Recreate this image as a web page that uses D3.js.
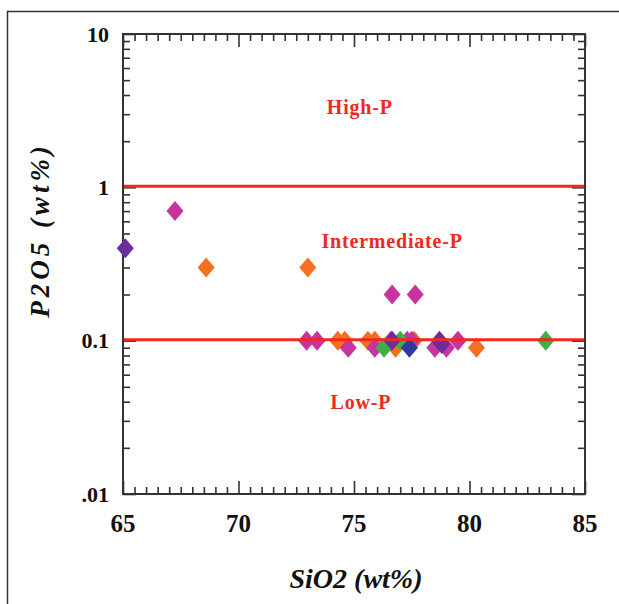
<!DOCTYPE html>
<html><head><meta charset="utf-8">
<script src="https://cdn.jsdelivr.net/npm/d3@7"></script>
<style>body{margin:0;background:#fff}svg{display:block}</style>
</head><body>
<script>
// ---- data ----
const magentaX = [67.25, 76.65, 77.65, 72.95, 73.4, 74.75, 75.9, 76.6, 77.3, 77.5, 78.5, 79.0, 79.5];
const magentaY = [0.7, 0.2, 0.2, 0.1, 0.1, 0.09, 0.09, 0.1, 0.1, 0.1, 0.09, 0.09, 0.1];
const orangeX = [68.6, 73.0, 74.3, 74.6, 75.6, 75.9, 76.8, 77.6, 80.3];
const orangeY = [0.3, 0.3, 0.1, 0.1, 0.1, 0.1, 0.09, 0.1, 0.09];
const greenX = [76.3, 77.0, 83.3];
const greenY = [0.09, 0.1, 0.1];
const purpleX = [65.1, 76.65, 78.7, 78.8];
const purpleY = [0.4, 0.1, 0.1, 0.095];
const blueX = [77.4];
const blueY = [0.09];
const xTicks = [65, 70, 75, 80, 85];
const yTicks = [10, 1, 0.1, 0.01];
const yTickLabels = ["10", "1", "0.1", ".01"];
const boundaries = [1, 0.1];
const fieldLabels = ["High-P", "Intermediate-P", "Low-P"];
const fieldLabelX = [75.25, 76.65, 75.3];
const fieldLabelY = [3.0, 0.4, 0.036];

const W = 619, H = 604;
const L = 123, R = 585, T = 34, B = 494;
const svg = d3.select("body").append("svg").attr("width", W).attr("height", H);

svg.append("rect").attr("x", 7.5).attr("y", 11.5).attr("width", 640).attr("height", 640)
  .attr("fill", "none").attr("stroke", "#333").attr("stroke-width", 1.5);

const x = d3.scaleLinear().domain([65, 85]).range([L, R]);
const y = d3.scaleLog().domain([0.01, 10]).range([B, T]);

const serif = "'Liberation Serif', 'Times New Roman', serif";
const axisCol = "#333";

// minor ticks
const xMinor = d3.range(65, 85.01, 0.5).filter(v => Math.abs(v % 5) > 1e-6);
const yMinor = [];
[0.01, 0.1, 1].forEach(d => { for (let k = 2; k <= 9; k++) yMinor.push(d * k); });

function styleAxis(g) {
  g.selectAll("path").attr("stroke", "none");
  g.selectAll("line").attr("stroke", axisCol).attr("stroke-width", 1.6);
  g.selectAll("text").remove();
}
svg.append("g").attr("transform", `translate(0,${B})`)
  .call(d3.axisBottom(x).tickValues(xMinor).tickSize(-7)).call(styleAxis);
svg.append("g").attr("transform", `translate(0,${T})`)
  .call(d3.axisTop(x).tickValues(xMinor).tickSize(-7)).call(styleAxis);
svg.append("g").attr("transform", `translate(0,${B})`)
  .call(d3.axisBottom(x).tickValues(xTicks).tickSize(-13)).call(styleAxis);
svg.append("g").attr("transform", `translate(0,${T})`)
  .call(d3.axisTop(x).tickValues(xTicks).tickSize(-13)).call(styleAxis);
svg.append("g").attr("transform", `translate(${L},0)`)
  .call(d3.axisLeft(y).tickValues(yMinor).tickSize(-7)).call(styleAxis);
svg.append("g").attr("transform", `translate(${R},0)`)
  .call(d3.axisRight(y).tickValues(yMinor).tickSize(-7)).call(styleAxis);
svg.append("g").attr("transform", `translate(${L},0)`)
  .call(d3.axisLeft(y).tickValues(yTicks).tickSize(-13)).call(styleAxis);
svg.append("g").attr("transform", `translate(${R},0)`)
  .call(d3.axisRight(y).tickValues(yTicks).tickSize(-13)).call(styleAxis);

// frame
svg.append("rect").attr("x", L).attr("y", T).attr("width", R - L).attr("height", B - T)
  .attr("fill", "none").attr("stroke", axisCol).attr("stroke-width", 2);

// tick labels
svg.append("g").selectAll("text").data(xTicks).join("text")
  .attr("x", d => x(d)).attr("y", B + 38).attr("text-anchor", "middle")
  .attr("font-family", serif).attr("font-weight", "bold").attr("font-size", 25)
  .attr("fill", "#111").text(d => d);
svg.append("g").selectAll("text").data(yTicks).join("text")
  .attr("x", L - 14).attr("y", d => y(d)).attr("dy", "0.35em").attr("text-anchor", "end")
  .attr("font-family", serif).attr("font-weight", "bold").attr("font-size", 22)
  .attr("fill", "#111").text((d, i) => yTickLabels[i]);

// axis titles
svg.append("text").attr("x", 356).attr("y", 588).attr("text-anchor", "middle")
  .attr("font-family", serif).attr("font-weight", "bold").attr("font-style", "italic")
  .attr("font-size", 28).attr("fill", "#111").text("SiO2 (wt%)");
svg.append("text").attr("transform", "translate(49,230) rotate(-90)").attr("text-anchor", "middle")
  .attr("font-family", serif).attr("font-weight", "bold").attr("font-style", "italic")
  .attr("font-size", 27).attr("letter-spacing", 4).attr("fill", "#111").text("P2O5 (wt%)");

// points
const diamond = "M0,-10L8.5,0L0,10L-8.5,0Z";
const series = [
  {xs: orangeX, ys: orangeY, c: "#f37021"},
  {xs: magentaX, ys: magentaY, c: "#c8339e"},
  {xs: greenX, ys: greenY, c: "#3db049"},
  {xs: purpleX, ys: purpleY, c: "#6b2d9c"},
  {xs: blueX, ys: blueY, c: "#2e3a9e"}
];
series.forEach(s => {
  svg.append("g").selectAll("path").data(s.xs).join("path")
    .attr("d", diamond)
    .attr("transform", (d, i) => `translate(${x(d)},${y(s.ys[i])})`)
    .attr("fill", s.c);
});

// boundary lines
svg.append("g").selectAll("line").data(boundaries).join("line")
  .attr("x1", L + 1).attr("x2", R - 1).attr("y1", d => y(d) - 1).attr("y2", d => y(d) - 1)
  .attr("stroke", "#f0281e").attr("stroke-width", 3);

// field labels
svg.append("g").selectAll("text").data(fieldLabels).join("text")
  .attr("x", (d, i) => x(fieldLabelX[i])).attr("y", (d, i) => y(fieldLabelY[i]))
  .attr("text-anchor", "middle").attr("font-family", serif).attr("font-weight", "bold")
  .attr("font-size", 20).attr("letter-spacing", 0.8).attr("fill", "#f0281e").text(d => d);
</script>
</body></html>
